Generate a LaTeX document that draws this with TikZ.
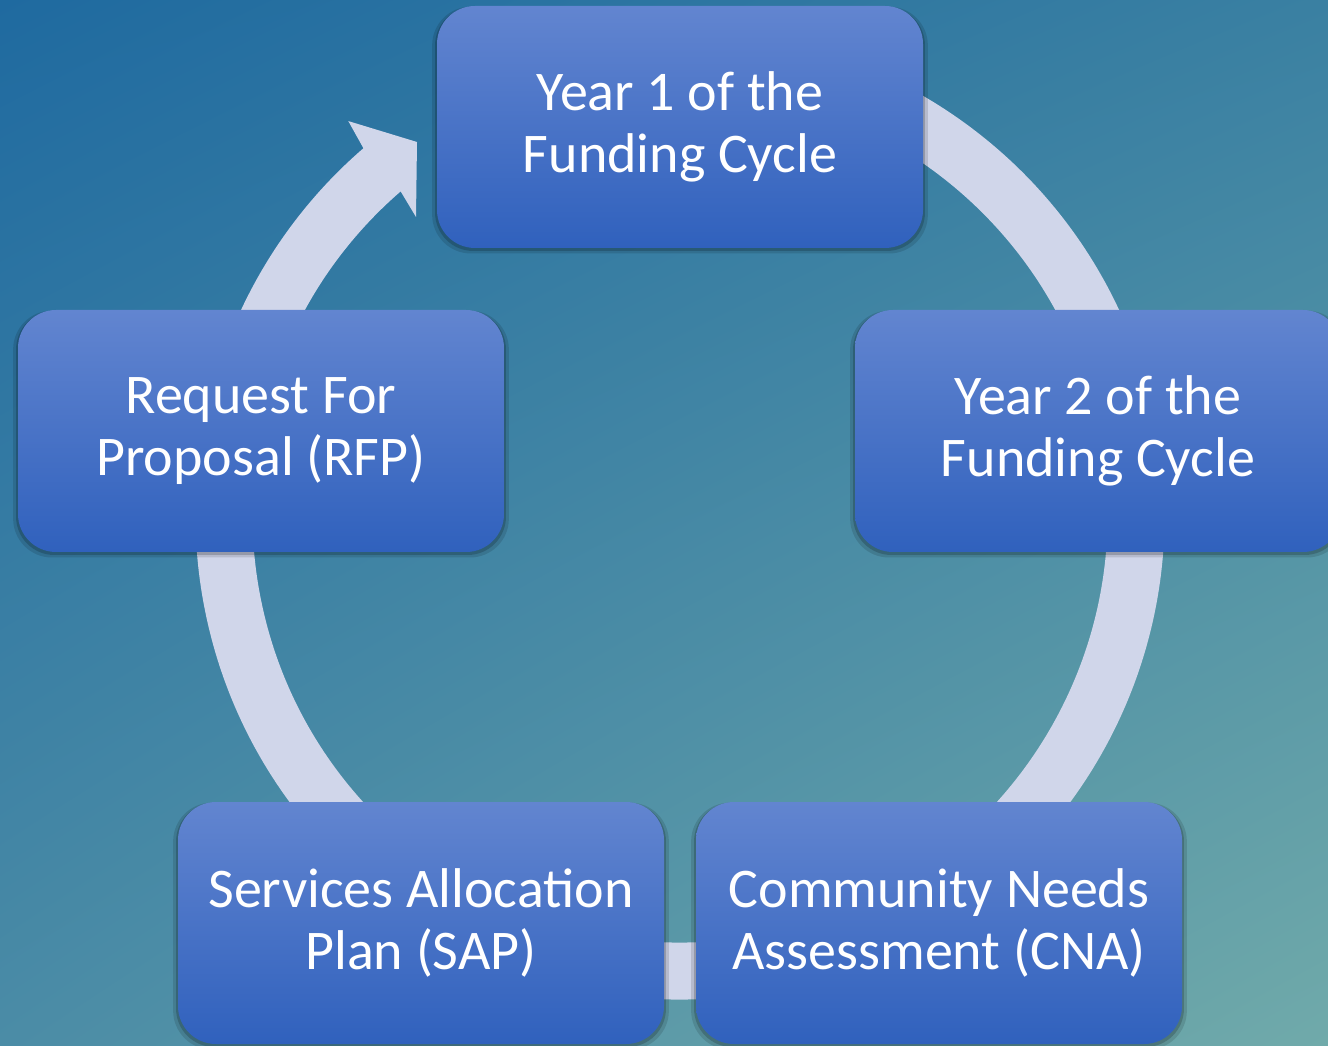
\documentclass[tikz,border=0pt]{standalone}
\usepackage{fontspec}
\setmainfont{Carlito}
\usetikzlibrary{shadows,shadings,calc}
\definecolor{bgUL}{RGB}{31,106,160}
\definecolor{bgUR}{RGB}{58,128,162}
\definecolor{bgLL}{RGB}{75,140,166}
\definecolor{bgLR}{RGB}{112,170,170}
\definecolor{boxtop}{RGB}{98,133,208}
\definecolor{boxbot}{RGB}{48,97,189}
\definecolor{ringc}{RGB}{208,214,234}
\tikzset{
  box/.style={rounded corners=38pt, minimum width=486pt, minimum height=242pt,
    top color=boxtop, bottom color=boxbot, draw=none, text=white, align=center,
    inner sep=0pt, font=\fontsize{56}{62}\selectfont,
    general shadow={fill=black, opacity=0.12, shadow scale=1.02, shadow yshift=-3pt},
    general shadow={fill=black, opacity=0.18, shadow scale=1.008, shadow yshift=-2pt}},
  ring/.style={draw=ringc, line width=57pt, line cap=butt},
}
\begin{document}
\begin{tikzpicture}[x=1pt,y=1pt]
\useasboundingbox (0,0) rectangle (1328,1045);
\shade[upper left=bgUL, upper right=bgUR, lower left=bgLL, lower right=bgLR] (0,0) rectangle (1328,1045);
\coordinate (cen) at (680,530);
\draw[ring] ([shift={(100:456)}]cen) arc[start angle=100, end angle=-229.5, radius=456];
\fill[ringc] ([shift={(130.8:484.5)}]cen) -- ([shift={(130.1:515)}]cen) -- (417,903) -- (416,828) -- ([shift={(130.8:427.5)}]cen) -- cycle;
\node[box] (y1) at (680,918) {Year 1 of the\\Funding Cycle};
\node[box] (y2) at (1098,614) {Year 2 of the\\Funding Cycle};
\node[box] (rfp) at (261,614) {Request For\\Proposal (RFP)};
\node[box] (sap) at (421,122) {Services Allocation\\Plan (SAP)};
\node[box] (cna) at (939,122) {Community Needs\\Assessment (CNA)};
\end{tikzpicture}
\end{document}
